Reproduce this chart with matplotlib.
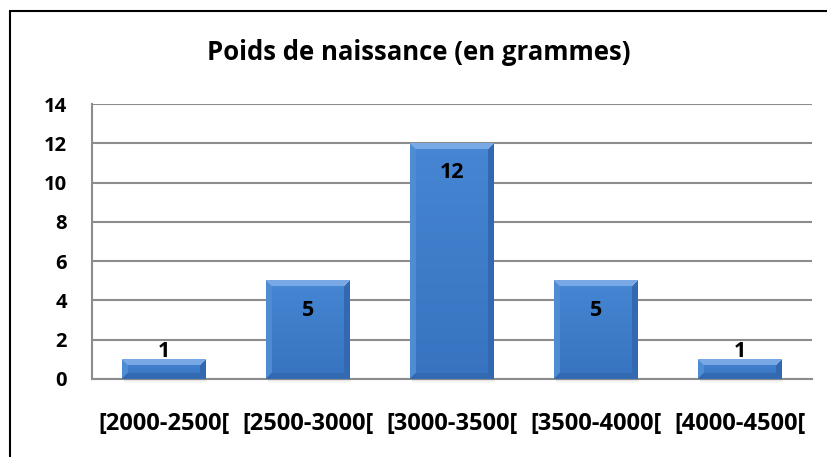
import numpy as np
import matplotlib
matplotlib.use("Agg")
import matplotlib.pyplot as plt
from matplotlib.patches import Rectangle

plt.rcParams['font.family'] = ['Open Sans', 'DejaVu Sans']

categories = ["[2000-2500[", "[2500-3000[", "[3000-3500[", "[3500-4000[", "[4000-4500["]
values = [1, 5, 12, 5, 1]
yticks = [0, 2, 4, 6, 8, 10, 12, 14]
title = "Poids de naissance (en grammes)"

W, H = 828, 457
fig = plt.figure(figsize=(W / 100, H / 100), dpi=100)
ax = fig.add_axes([92 / W, 1 - 379 / H, (812 - 92) / W, (379 - 104) / H])

x = np.arange(len(categories))
bw = 0.58
bars = ax.bar(x, values, width=bw, color="#3d7dca", zorder=3)
ax.set_xlim(-0.5, len(categories) - 0.5)
ax.set_ylim(0, 14)
ax.set_yticks(yticks)
ax.set_xticks(x)
ax.set_xticklabels(categories, fontsize=17, fontweight="bold")
ax.set_yticklabels([str(t) for t in yticks], fontsize=14.5, fontweight="bold")
ax.tick_params(axis="y", length=0, pad=18)
ax.tick_params(axis="x", length=0, pad=24)
ax.yaxis.grid(True, color="#8c8c8c", linewidth=1.5, zorder=0)
for s in ["top", "right"]:
    ax.spines[s].set_visible(False)
for s in ["left", "bottom"]:
    ax.spines[s].set_color("#8c8c8c")
    ax.spines[s].set_linewidth(1.5)

# bevel shading for bars
fig.canvas.draw()
bev = 6
c_center_top = np.array([70, 134, 210]) / 255
c_center_bot = np.array([55, 115, 192]) / 255
c_top = np.array([120, 168, 230]) / 255
c_left = np.array([78, 140, 212]) / 255
c_right = np.array([50, 105, 178]) / 255
c_bot = np.array([52, 106, 178]) / 255
for b in bars:
    bb = b.get_window_extent()
    pw = max(int(round(bb.width)), 2)
    ph = max(int(round(bb.height)), 2)
    img = np.zeros((ph, pw, 3))
    ii, jj = np.mgrid[0:ph, 0:pw]
    t = ii / max(ph - 1, 1)
    img[:] = (c_center_top[None, None, :] * (1 - t[..., None]) + c_center_bot[None, None, :] * t[..., None])
    dt = ii
    db = ph - 1 - ii
    dl = jj
    dr = pw - 1 - jj
    dmin = np.minimum(np.minimum(dt, db), np.minimum(dl, dr))
    edge = dmin < bev
    top_m = edge & (dt == dmin)
    bot_m = edge & (db == dmin) & ~top_m
    left_m = edge & (dl == dmin) & ~top_m & ~bot_m
    right_m = edge & (dr == dmin) & ~top_m & ~bot_m & ~left_m
    img[top_m] = c_top
    img[bot_m] = c_bot
    img[left_m] = c_left
    img[right_m] = c_right
    x0 = b.get_x()
    x1 = x0 + b.get_width()
    ax.imshow(img, extent=(x0, x1, 0, b.get_height()), aspect="auto", zorder=4,
              interpolation="bilinear")
    # soft shadow
    for k, a in enumerate([0.25, 0.15, 0.08]):
        ax.add_patch(Rectangle((x0 + 0.01, -0.06 * (k + 1)), b.get_width(), 0.06 * (k + 1),
                               color="#999999", alpha=a, zorder=2, clip_on=False, lw=0))
    b.set_visible(False)

ax.set_xlim(-0.5, len(categories) - 0.5)
ax.set_ylim(0, 14)

# data labels
for xi, v in zip(x, values):
    if v > 3:
        ax.text(xi, v - 1.5, str(v), ha="center", va="center", fontsize=15.5,
                fontweight="bold", color="black", zorder=6)
    else:
        ax.text(xi, v - 0.15, str(v), ha="center", va="bottom", fontsize=15.5,
                fontweight="bold", color="black", zorder=6)

fig.text(0.506, 1 - 53 / H, title, ha="center", va="center", fontsize=18.5,
         fontweight="bold")

# outer frame
fig.add_artist(Rectangle((10 / W, -0.1), 1.2, 1 - 11 / H + 0.1, transform=fig.transFigure,
                         fill=False, edgecolor="black", linewidth=1.5))

fig.savefig("out.png", dpi=100)
